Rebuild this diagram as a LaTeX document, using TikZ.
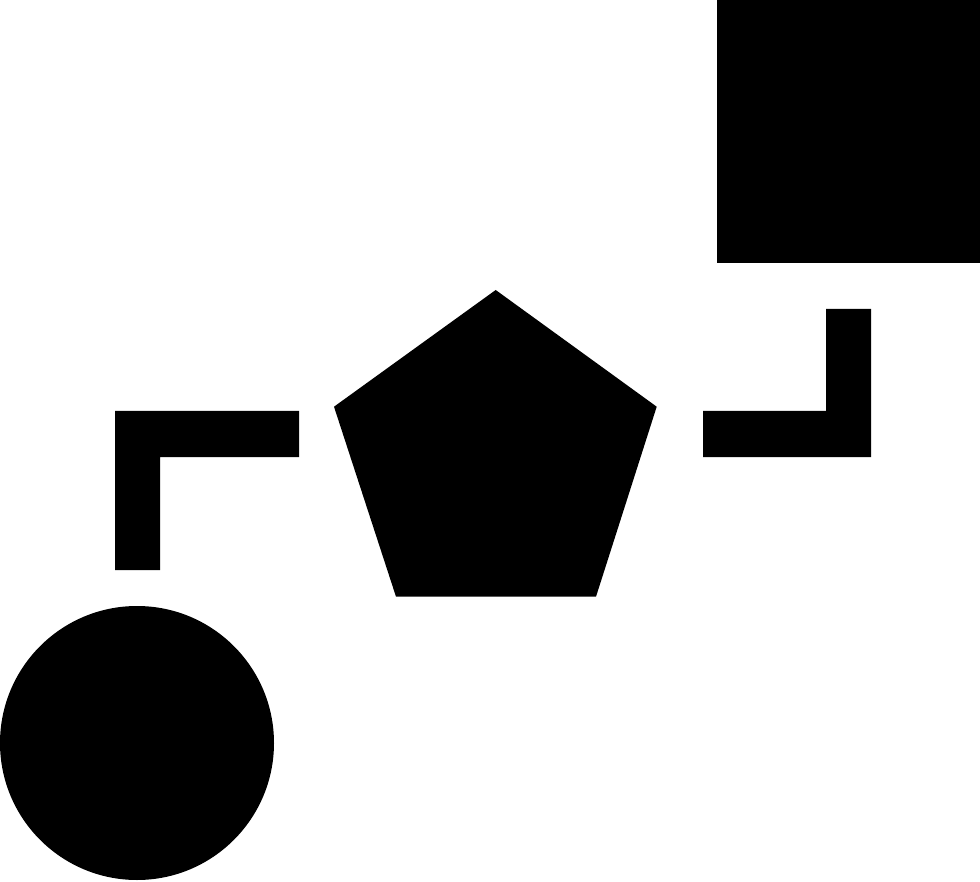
\documentclass[tikz,border=0pt]{standalone}
\begin{document}
\begin{tikzpicture}[x=1pt,y=-1pt,shapefill/.style={fill=black,draw=none}]
\useasboundingbox (0,0) rectangle (980,882);
% square
\fill[shapefill] (717,0) rectangle (980,263);
% pentagon
\fill[shapefill] (495.7,290) -- (656.7,406.7) -- (596,596.7) -- (396,596.7) -- (334,406.7) -- cycle;
% circle
\fill[shapefill] (137,743) circle[radius=137];
% left connector
\fill[shapefill] (115,411) -- (299,411) -- (299,457) -- (160,457) -- (160,570) -- (115,570) -- cycle;
% right connector
\fill[shapefill] (703,411) -- (826,411) -- (826,309) -- (871,309) -- (871,457) -- (703,457) -- cycle;
\end{tikzpicture}
\end{document}
